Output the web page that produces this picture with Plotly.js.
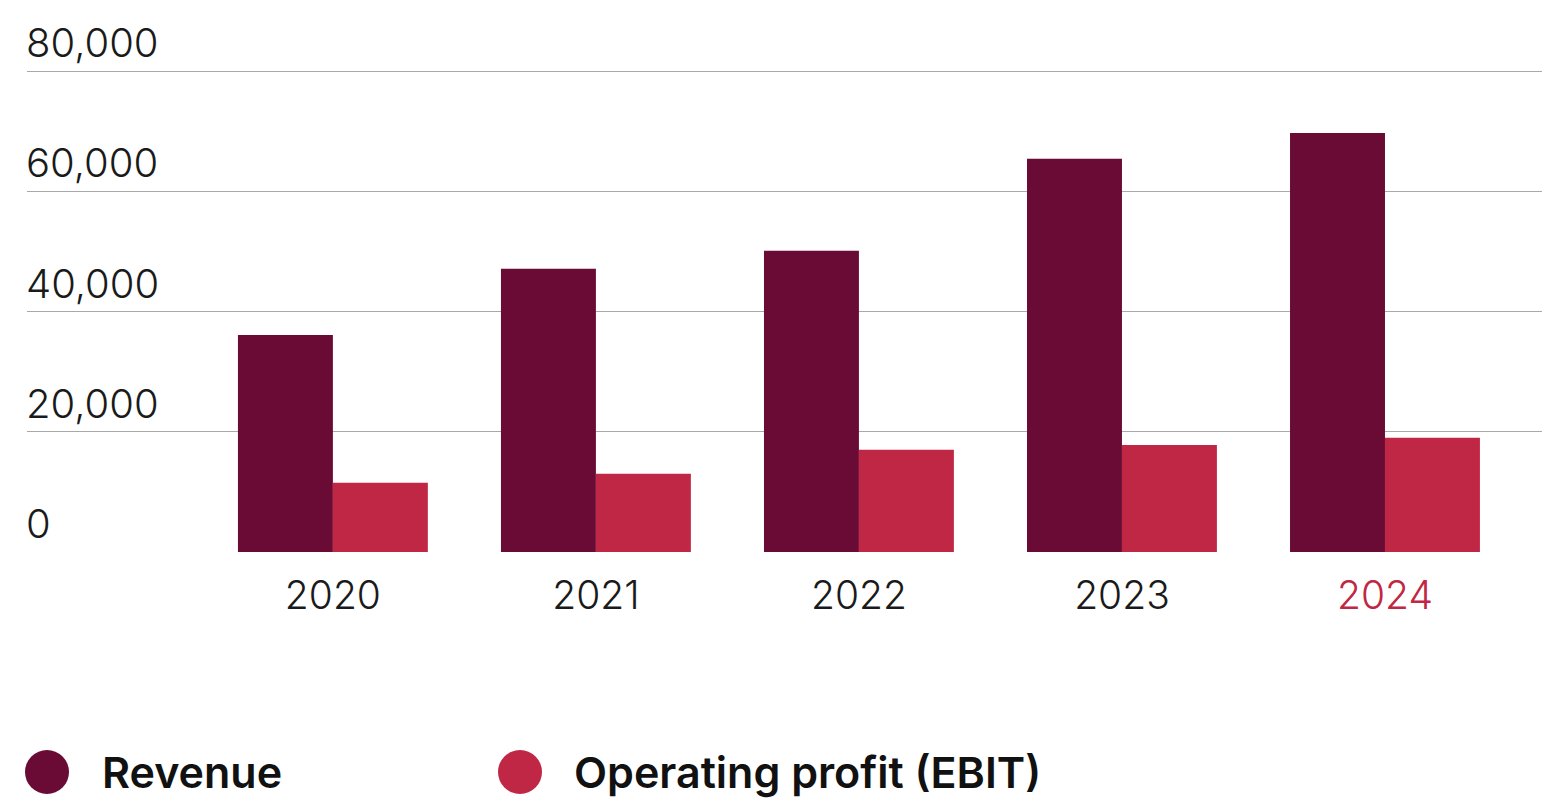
<!DOCTYPE html>
<html>
<head>
<meta charset="utf-8">
<script src="https://cdn.plot.ly/plotly-3.0.1.min.js"></script>
<style>html,body{margin:0;padding:0;background:#fff;}#chart{width:1542px;height:798px;}</style>
</head>
<body>
<div id="chart"></div>
<script>
const years = ["2020", "2021", "2022", "2023", "2024"];
const revenue = [36100, 47100, 50100, 65400, 69700];
const ebit = [11500, 13000, 17000, 17800, 19000];
const seriesNames = ["Revenue", "Operating profit (EBIT)"];
const seriesColors = ["#6a0b35", "#c02744"];
const yTicks = [0, 20000, 40000, 60000, 80000];
const yTickText = ["0", "20,000", "40,000", "60,000", "80,000"];
const highlightYear = "2024";

const tickText = years.map(y => y === highlightYear ? '<span style="color:#c02744">' + y + '</span>' : y);

const traces = [
  {type: "bar", x: years, y: revenue, name: seriesNames[0], marker: {color: seriesColors[0]}, showlegend: false, hoverinfo: "x+y"},
  {type: "bar", x: years, y: ebit, name: seriesNames[1], marker: {color: seriesColors[1]}, showlegend: false, hoverinfo: "x+y"}
];

const W = 1542, L = 27, T = 20, B = 246;
const plotW = W - L, plotH = 798 - T - B;
const px2x = p => (p - L) / plotW;
const py2y = p => (798 - B - p) / plotH;
// top of y range so that 80,000 sits at y=71px while leaving room for its label
const yTop = 80000 * plotH / (798 - B - 71);

const legendCircleX = [47, 520];
const legendTextX = [100, 572];
const legendY = 772;

const shapes = seriesNames.map((n, i) => ({
  type: "circle", xref: "paper", yref: "paper",
  xsizemode: "pixel", ysizemode: "pixel",
  xanchor: px2x(legendCircleX[i]), yanchor: py2y(legendY),
  x0: -22, x1: 22, y0: -22, y1: 22,
  fillcolor: seriesColors[i], line: {width: 0}
}));
const annotations = seriesNames.map((n, i) => ({
  text: n, xref: "paper", yref: "paper",
  x: px2x(legendTextX[i]), y: py2y(legendY),
  xanchor: "left", yanchor: "middle", showarrow: false,
  font: {family: "Inter, 'Noto Sans', sans-serif", size: 43, weight: 600, color: "#111"}
}));

const layout = {
  width: 1542, height: 798,
  margin: {l: L, r: 0, t: T, b: B, pad: 0},
  paper_bgcolor: "#fff", plot_bgcolor: "#fff",
  barmode: "group", bargap: 0.278, bargroupgap: 0,
  xaxis: {
    type: "category", range: [-1.163, 4.597],
    tickvals: years, ticktext: tickText,
    ticks: "outside", ticklen: 9, tickcolor: "rgba(0,0,0,0)",
    showgrid: false, zeroline: false, showline: false,
    tickfont: {family: "Inter, sans-serif", size: 39, weight: 300, color: "#1a1a1a"}
  },
  yaxis: {
    range: [0, yTop], tickvals: yTicks, ticktext: yTickText,
    ticklabelposition: "inside top", ticklabeloverflow: "allow",
    ticks: "", ticklabelstandoff: -4,
    showgrid: true, gridcolor: "#a9a9a9", gridwidth: 1,
    zeroline: false, showline: false,
    tickfont: {family: "Inter, sans-serif", size: 40, weight: 300, color: "#1a1a1a"}
  },
  shapes: shapes,
  annotations: annotations,
  showlegend: false
};

Plotly.newPlot("chart", traces, layout, {displayModeBar: false, staticPlot: true});
</script>
</body>
</html>
